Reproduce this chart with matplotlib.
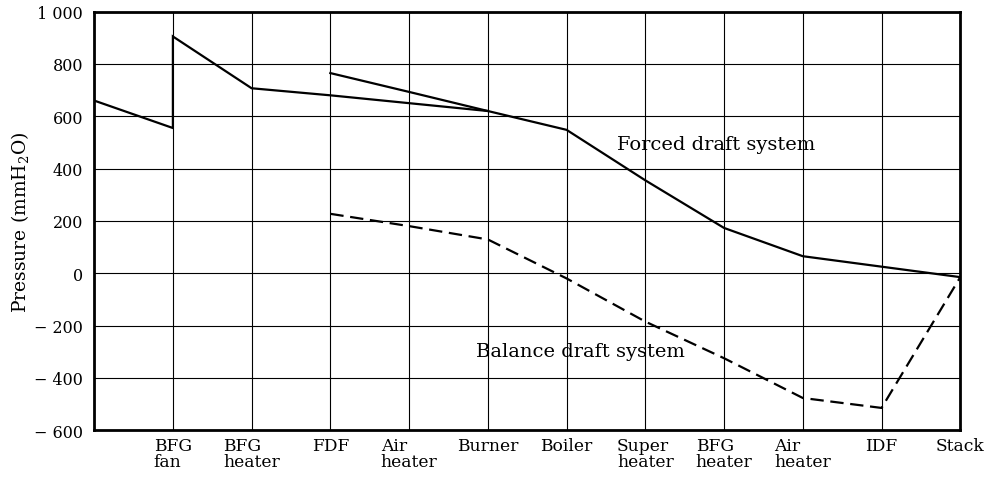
import matplotlib.pyplot as plt
import numpy as np

plt.rcParams['font.family'] = ['DejaVu Serif']
plt.rcParams['mathtext.fontset'] = 'dejavuserif'

# Stations along the gas path (x = 0 is the inlet at the left axis)
stations = ['', 'BFG\nfan', 'BFG\nheater', 'FDF', 'Air\nheater', 'Burner', 'Boiler',
            'Super\nheater', 'BFG\nheater', 'Air\nheater', 'IDF', 'Stack']

# Forced draft system (BFG path, with a vertical step at the BFG fan)
forced_x = [0, 1, 1, 2, 3, 4, 5, 6, 7, 8, 9, 10, 11]
forced_p = [660, 555, 905, 707, 680, 650, 620, 548, 355, 173, 65, 25, -15]

# Forced draft system, air branch from the FDF to the burner
air_x = [3, 4, 5]
air_p = [765, 693, 620]

# Balance draft system
balance_x = [3, 4, 5, 6, 7, 8, 9, 10, 11]
balance_p = [227, 180, 129, -20, -185, -325, -477, -515, -15]

yticks = [-600, -400, -200, 0, 200, 400, 600, 800, 1000]
ytick_labels = ['− 600', '− 400', '− 200', '0', '200', '400', '600', '800', '1 000']

fig = plt.figure(figsize=(9.91, 4.85), dpi=100)
ax = fig.add_axes([0.095, 0.111, 0.874, 0.863])

ax.plot(forced_x, forced_p, color='black', lw=1.6, solid_joinstyle='miter')
ax.plot(air_x, air_p, color='black', lw=1.6)
ax.plot(balance_x, balance_p, color='black', lw=1.6, linestyle=(0, (6, 3)))

ax.set_xlim(0, 11)
ax.set_ylim(-600, 1000)
ax.set_xticks(np.arange(len(stations)))
ax.set_xticklabels(stations, fontsize=12.3, multialignment='left', linespacing=0.92)
ax.set_yticks(yticks)
ax.set_yticklabels(ytick_labels, fontsize=11.5)
ax.tick_params(axis='y', length=0, pad=8)
ax.tick_params(axis='x', length=0, pad=5)
ax.grid(True, color='black', lw=0.8)
ax.set_axisbelow(True)
for s in ax.spines.values():
    s.set_linewidth(2.0)

ax.set_ylabel('Pressure (mmH$_2$O)', fontsize=13.5, labelpad=2)

ax.text(7.9, 493, 'Forced draft system', fontsize=14, ha='center', va='center')
ax.text(6.18, -298, 'Balance draft system', fontsize=14, ha='center', va='center')

fig.savefig('out.png', dpi=100)
